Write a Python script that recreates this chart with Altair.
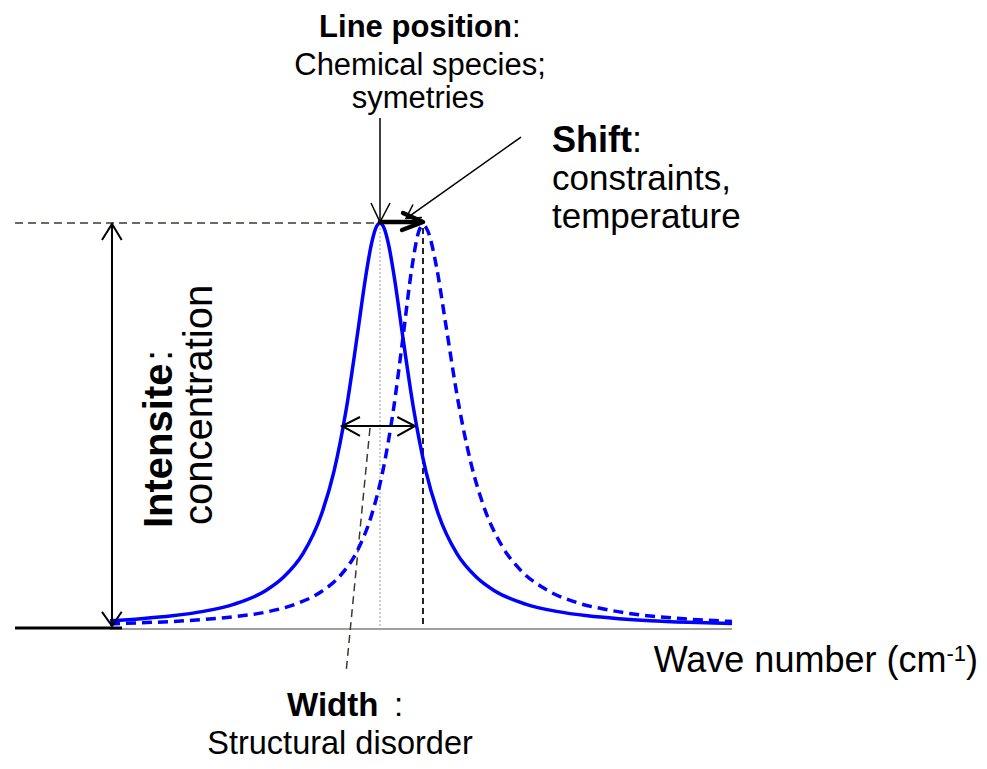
import altair as alt
import pandas as pd

# Wave number (arbitrary units, 0..100 along the drawn baseline) and normalized intensity
solid_x = [0, 5, 10, 15, 20, 25, 28, 31, 34, 36, 38, 40, 41, 42, 42.7, 43.4, 44.1, 44.8,
           45.8, 46.8, 48.8, 50.8, 52.8, 55.8, 58.8, 61.8, 66.8, 71.8, 76.8, 81.8, 86.8, 93, 100]
solid_y = [0.018, 0.023, 0.030, 0.041, 0.059, 0.092, 0.127, 0.183, 0.281, 0.386, 0.542, 0.749,
           0.857, 0.946, 0.986, 1.0, 0.986, 0.946, 0.857, 0.749, 0.542, 0.386, 0.281, 0.183,
           0.127, 0.092, 0.059, 0.041, 0.030, 0.023, 0.018, 0.014, 0.011]

dashed_x = [0, 5, 10, 15, 20, 25, 30, 34, 37, 40, 42, 44, 45.5, 47, 48.5, 49.6, 50.3, 51.1,
            52.5, 54, 56, 58, 60, 63, 66, 70, 75, 80, 86, 93, 100]
dashed_y = [0.010, 0.013, 0.016, 0.021, 0.028, 0.039, 0.060, 0.090, 0.129, 0.198, 0.276, 0.398,
            0.532, 0.705, 0.886, 0.977, 0.995, 0.980, 0.891, 0.748, 0.557, 0.409, 0.304, 0.203,
            0.143, 0.096, 0.063, 0.045, 0.031, 0.022, 0.016]

peak1 = 43.41
peak2 = 50.32

X_DOMAIN = [-16.399, 139.711]
Y_DOMAIN = [-0.3284, 1.5309]

# annotation strokes, in data units (wave number, intensity)
thin_strokes = [
    [(peak1, 1.259), (peak1, 1.0025)],
    [(41.96, 1.0494), (peak1, 1.0025), (45.02, 1.0494)],
    [(66.08, 1.2123), (47.59, 1.0111)],
    [(50.16, 1.0136), (47.59, 1.0111), (48.71, 1.0457)],
]
double_arrows = [
    [(0.32, 0.9975), (0.32, 0.0049)],
    [(-1.29, 0.958), (0.32, 0.9975), (1.88, 0.958)],
    [(-1.29, 0.040), (0.32, 0.0049), (1.88, 0.040)],
    [(37.30, 0.4988), (49.04, 0.4988)],
    [(40.19, 0.5210), (37.30, 0.4988), (40.19, 0.4741)],
    [(46.19, 0.5210), (49.04, 0.4988), (46.19, 0.4741)],
]
base_stub = [[(-15.27, 0.0), (1.93, 0.0)]]
shift_arrow = [
    [(peak1, 1.0025), (peak2 - 0.3, 1.0025)],
    [(47.11, 1.0247), (peak2, 1.0025), (46.95, 0.9827)],
]
gray_base = [[(0, -0.0025), (100, -0.0025)]]
dashed_dark = [
    [(-15.27, 1.0), (43.09, 1.0)],
    [(41.80, 0.4938), (37.94, -0.1111)],
]
dashed_vert = [[(peak2, 0.9877), (peak2, 0.0)]]
dotted_vert = [[(peak1, 0.9975), (peak1, 0.0)]]


def to_df(segs):
    rows = []
    for i, pts in enumerate(segs):
        for j, (x, y) in enumerate(pts):
            rows.append({"seg": i, "ord": j, "x": x, "y": y})
    return pd.DataFrame(rows)


xs = alt.Scale(domain=X_DOMAIN, nice=False, zero=False)
ys = alt.Scale(domain=Y_DOMAIN, nice=False, zero=False)


def lines(segs, **mark):
    return alt.Chart(to_df(segs)).mark_line(**mark).encode(
        x=alt.X("x:Q", scale=xs, axis=None),
        y=alt.Y("y:Q", scale=ys, axis=None),
        detail="seg:N",
        order="ord:Q",
    )


def curve(xv, yv, **mark):
    df = pd.DataFrame({"x": xv, "y": yv, "ord": range(len(xv))})
    return alt.Chart(df).mark_line(interpolate="monotone", **mark).encode(
        x=alt.X("x:Q", scale=xs, axis=None),
        y=alt.Y("y:Q", scale=ys, axis=None),
        order="ord:Q",
    )


FONT = "Liberation Sans"


def texts(labels, tx, ty, size, weight="normal", align="left", angle=0):
    df = pd.DataFrame({"t": labels, "x": tx, "y": ty})
    return alt.Chart(df).mark_text(
        font=FONT, fontSize=size, fontWeight=weight, align=align,
        baseline="alphabetic", angle=angle, color="black",
    ).encode(
        x=alt.X("x:Q", scale=xs, axis=None),
        y=alt.Y("y:Q", scale=ys, axis=None),
        text="t:N",
    )


layers = [
    lines(gray_base, color="#808080", strokeWidth=1.5),
    lines(base_stub, color="black", strokeWidth=3),
    lines(dotted_vert, color="#9a9a9a", strokeWidth=1, strokeDash=[2, 2]),
    lines(dashed_vert, color="#222222", strokeWidth=2, strokeDash=[6, 4]),
    lines(dashed_dark, color="#3a3a30", strokeWidth=1.5, strokeDash=[8, 5]),
    curve(solid_x, solid_y, color="#0000ff", strokeWidth=3.5),
    curve(dashed_x, dashed_y, color="#0000ff", strokeWidth=3.5, strokeDash=[10, 6]),
    lines(thin_strokes, color="black", strokeWidth=1.5),
    lines(double_arrows, color="black", strokeWidth=2),
    lines(shift_arrow, color="black", strokeWidth=4.5, strokeCap="round", strokeJoin="round"),
    # top labels
    texts(["Line position"], [64.63], [1.4593], 31, weight="bold", align="right"),
    texts([":"], [64.63], [1.4593], 31),
    texts(["Chemical species;", "symetries"], [49.84, 49.52], [1.3654, 1.2840], 31, align="center"),
    # shift labels
    texts(["Shift"], [71.06], [1.1753], 36, weight="bold"),
    texts([":"], [83.92], [1.1753], 36),
    texts(["constraints,", "temperature"], [71.06, 71.06], [1.0815, 0.9877], 35),
    # intensity labels (rotated)
    texts(["Intensite"], [9.97], [0.2469], 40, weight="bold", angle=270),
    texts([":"], [9.97], [0.659], 40, angle=270),
    texts(["concentration"], [16.40], [0.2543], 40, angle=270),
    # width labels
    texts(["Width"], [28.46], [-0.2173], 33, weight="bold"),
    texts([":"], [45.66], [-0.2173], 33),
    texts(["Structural disorder"], [36.98], [-0.3111], 32.5, align="center"),
    # axis label
    texts(["Wave number (cm"], [134.47], [-0.1086], 36, align="right"),
    texts(["-1"], [137.62], [-0.0815], 22, align="right"),
    texts([")"], [139.55], [-0.1086], 36, align="right"),
]

chart = alt.layer(*layers).properties(
    width=971, height=753,
    autosize=alt.AutoSizeParams(type="none"),
    padding=0,
).configure_view(stroke=None)

chart.save("out.html", embed_options={"renderer": "svg", "actions": False})
